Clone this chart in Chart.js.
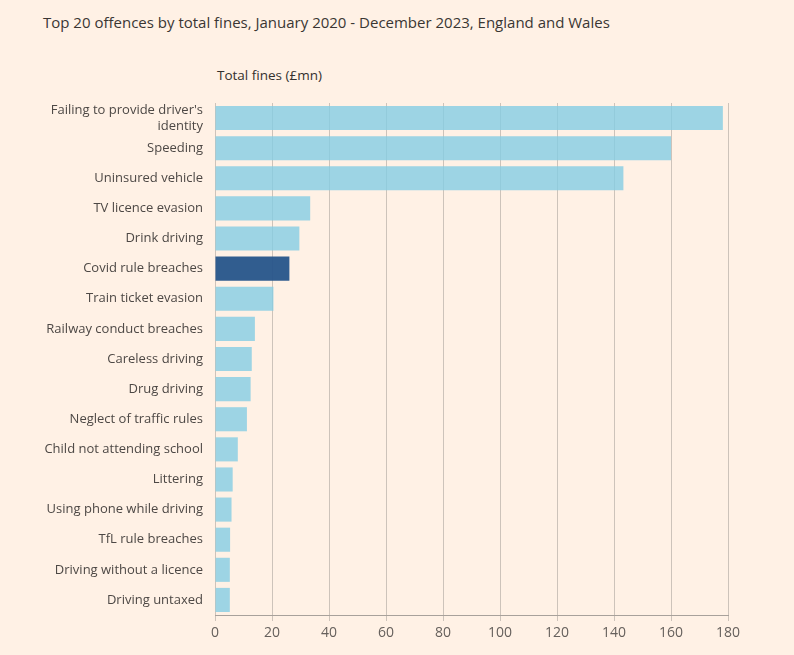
<!DOCTYPE html>
<html>
<head>
<meta charset="utf-8">
<script src="https://cdn.jsdelivr.net/npm/chart.js@4/dist/chart.umd.min.js"></script>
<style>
  html, body { margin: 0; padding: 0; background: #fff1e5; }
  #wrap { position: relative; width: 794px; height: 655px; }
  #title { position: absolute; left: 43px; top: 12px; font: 15px "Open Sans", sans-serif; color: #3a3633; }
  #unit { position: absolute; left: 217px; top: 66px; font: 13.5px "Open Sans", sans-serif; color: #33302e; }
  canvas { position: absolute; left: 0; top: 0; }
</style>
</head>
<body>
<div id="wrap">
  <div id="title">Top 20 offences by total fines, January 2020 - December 2023, England and Wales</div>
  <div id="unit">Total fines (£mn)</div>
  <canvas id="fines_chart" width="794" height="655"></canvas>
</div>
<script>
const offences = [
    ["Failing to provide driver's", "identity"],
    "Speeding",
    "Uninsured vehicle",
    "TV licence evasion",
    "Drink driving",
    "Covid rule breaches",
    "Train ticket evasion",
    "Railway conduct breaches",
    "Careless driving",
    "Drug driving",
    "Neglect of traffic rules",
    "Child not attending school",
    "Littering",
    "Using phone while driving",
    "TfL rule breaches",
    "Driving without a licence",
    "Driving untaxed"
];
const totalFines = [178.2, 160, 143.3, 33.4, 29.6, 26.1, 20.5, 14.0, 12.9, 12.5, 11.2, 8.0, 6.2, 5.8, 5.3, 5.2, 5.2];
const highlighted = "Covid rule breaches";
const xTicks = [0, 20, 40, 60, 80, 100, 120, 140, 160, 180];

const barColours = offences.map(o => o === highlighted ? 'rgba(38, 84, 138, 0.95)' : 'rgba(133, 205, 228, 0.8)');

const ctx = document.getElementById('fines_chart').getContext('2d');

new Chart(ctx, {
    type: 'bar',
    data: {
        labels: offences,
        datasets: [{
            data: totalFines,
            backgroundColor: barColours,
            borderWidth: 0,
            categoryPercentage: 1,
            barPercentage: 0.8
        }]
    },
    options: {
        indexAxis: 'y',
        responsive: false,
        animation: false,
        layout: { padding: { top: 103, right: 66, bottom: 10, left: 0 } },
        scales: {
            x: {
                min: 0,
                max: 180,
                afterBuildTicks: axis => { axis.ticks = xTicks.map(v => ({ value: v })); },
                afterFit: axis => { axis.height = 30; },
                grid: { color: '#cdc3ba', lineWidth: 1, tickLength: 6 },
                border: { display: true, color: '#a8a19b', width: 1 },
                ticks: { color: '#66605c', font: { family: 'Open Sans', size: 14 }, padding: 4 }
            },
            y: {
                afterFit: axis => { axis.width = 215; },
                grid: { display: false, drawTicks: false },
                border: { display: false },
                ticks: { color: '#4d4845', font: { family: 'Open Sans', size: 13 }, padding: 12, autoSkip: false }
            }
        },
        plugins: {
            legend: { display: false },
            tooltip: { enabled: false }
        }
    }
});
</script>
</body>
</html>
